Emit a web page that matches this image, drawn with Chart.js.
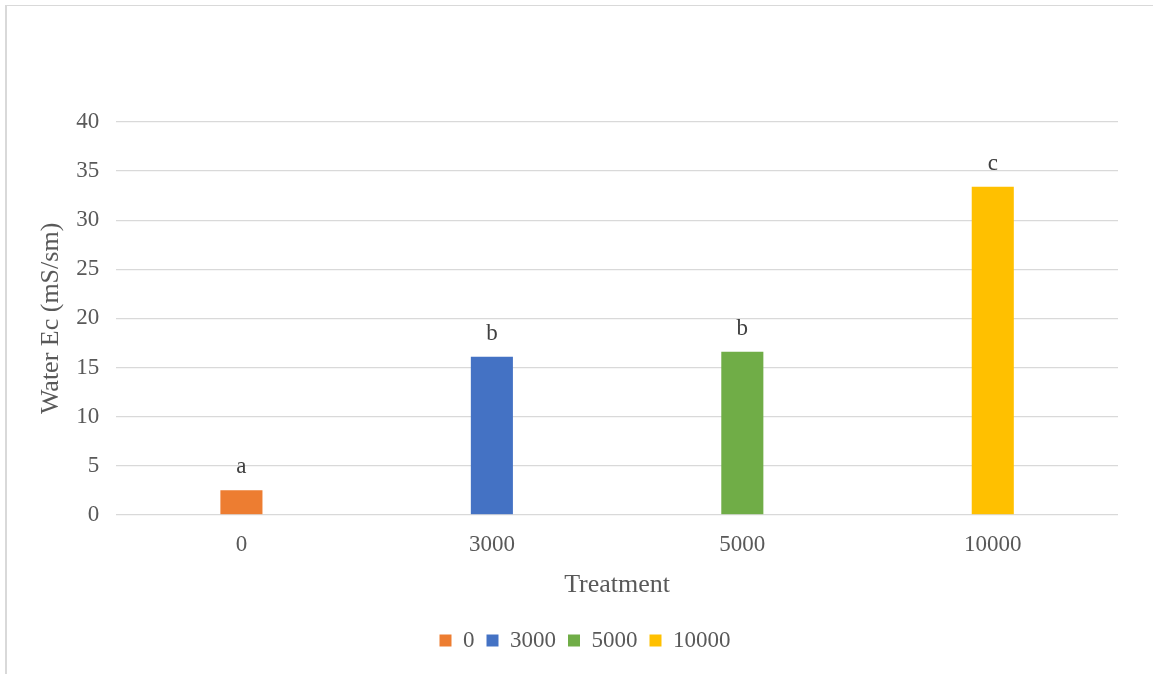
<!DOCTYPE html>
<html>
<head>
<meta charset="utf-8">
<script src="https://cdn.jsdelivr.net/npm/chart.js@4"></script>
<style>
  html, body { margin: 0; padding: 0; background: #fff; }
  #wrap { position: relative; width: 1153px; height: 674px; }
  #frame { position: absolute; left: 5px; top: 5px; right: -4px; bottom: -4px;
           border-left: 2px solid #d9d9d9; border-top: 1.5px solid #d9d9d9; pointer-events: none; }
</style>
</head>
<body>
<div id="wrap">
  <canvas id="chart" width="1153" height="674"></canvas>
  <div id="frame"></div>
</div>
<script>
var categories = ["0", "3000", "5000", "10000"];
var waterEc = [2.5, 16.1, 16.6, 33.4];
var letters = ["a", "b", "b", "c"];
var barColors = ["#ED7D31", "#4472C4", "#70AD47", "#FFC000"];
var yTicks = [0, 5, 10, 15, 20, 25, 30, 35, 40];

var serif = "'Liberation Serif', 'Times New Roman', serif";
var grey = "#595959";

// one dataset per treatment so each gets its own legend entry
var datasets = categories.map(function (name, i) {
    return {
        label: name,
        data: categories.map(function (c, j) { return j === i ? waterEc[i] : null; }),
        backgroundColor: barColors[i],
        letter: letters[i],
    };
});

var letterPlugin = {
    id: "letters",
    afterDatasetsDraw: function (chart) {
        var ctx = chart.ctx;
        ctx.save();
        ctx.font = "23px " + serif;
        ctx.fillStyle = "#404040";
        ctx.textAlign = "center";
        ctx.textBaseline = "alphabetic";
        chart.data.datasets.forEach(function (ds, i) {
            var meta = chart.getDatasetMeta(i);
            meta.data.forEach(function (bar, j) {
                if (ds.data[j] == null) return;
                ctx.fillText(ds.letter, bar.x, bar.y - 17);
            });
        });
        ctx.restore();
    },
};

// nudge the legend a little right, like the original
var legendShift = {
    id: "legendShift",
    afterLayout: function (chart) {
        if (!chart.legend) return;
        chart.legend.left += 24;
        chart.legend.right += 24;
    },
};

new Chart(document.getElementById("chart"), {
    type: "bar",
    data: {
        labels: categories,
        datasets: datasets,
    },
    plugins: [letterPlugin, legendShift],
    options: {
        responsive: false,
        animation: false,
        skipNull: true,
        categoryPercentage: 0.168,
        barPercentage: 1,
        layout: {
            padding: { left: 4, right: 35, top: 122, bottom: 12 },
        },
        plugins: {
            tooltip: { enabled: false },
            legend: {
                position: "bottom",
                labels: {
                    font: { family: serif, size: 23 },
                    color: grey,
                    boxWidth: 12,
                    boxHeight: 12,
                    padding: 12,
                },
            },
        },
        scales: {
            x: {
                grid: { display: false },
                border: { display: false },
                ticks: { font: { family: serif, size: 23, lineHeight: 1 }, color: grey, padding: 11 },
                title: {
                    display: true,
                    text: "Treatment",
                    font: { family: serif, size: 26 },
                    color: grey,
                    padding: { top: 2, bottom: 16 },
                },
            },
            y: {
                min: 0,
                max: 40,
                afterBuildTicks: function (axis) {
                    axis.ticks = yTicks.map(function (v) { return { value: v }; });
                },
                grid: { color: "#d9d9d9", lineWidth: 1.3, drawTicks: false },
                border: { display: false },
                ticks: { font: { family: serif, size: 23 }, color: grey, padding: 17 },
                title: {
                    display: true,
                    text: "Water Ec (mS/sm)",
                    font: { family: serif, size: 26 },
                    color: grey,
                    padding: { top: 32, bottom: -8 },
                },
            },
        },
    },
});
</script>
</body>
</html>
